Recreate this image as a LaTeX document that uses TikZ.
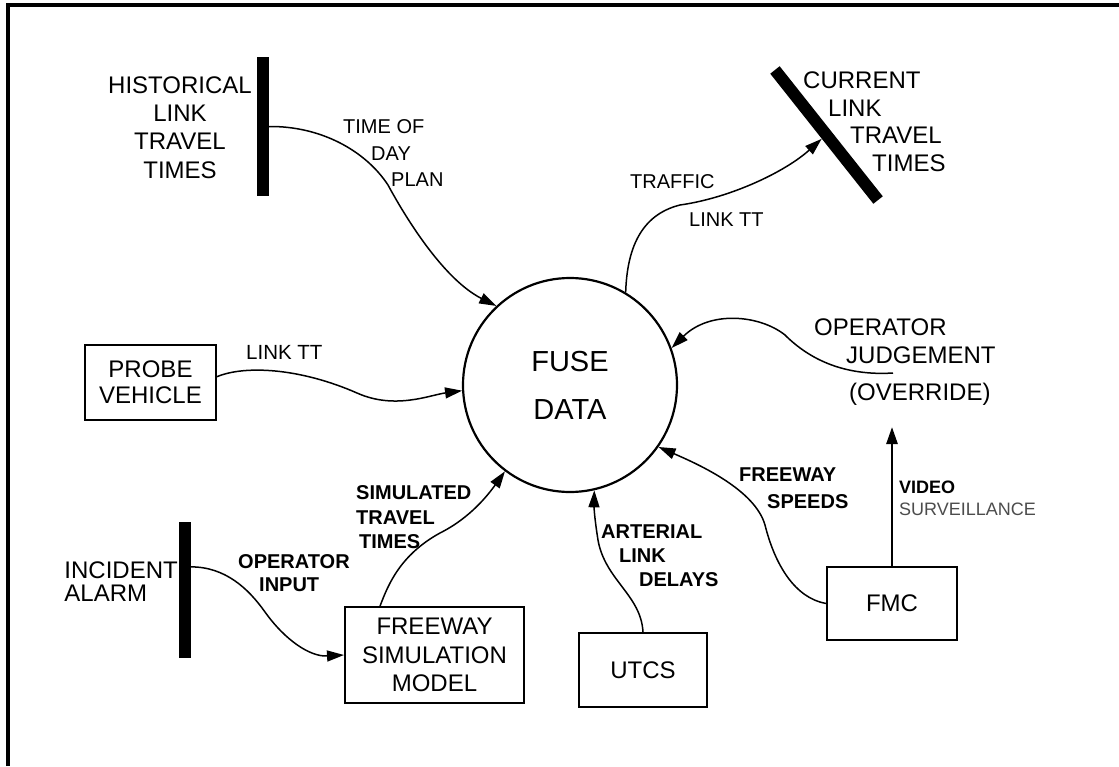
\documentclass[tikz,border=0pt]{standalone}
\usepackage{fontspec}
\setmainfont{Liberation Sans}
\usetikzlibrary{arrows.meta}

\begin{document}
\begin{tikzpicture}[
    x=1pt, y=-1pt,
    flow/.style={-{Triangle[length=17pt,width=11pt]}, line width=1.5pt},
    video/.style={-{Triangle[length=17pt,width=11pt]}, line width=2.6pt},
    store/.style={fill=black, inner sep=0pt, minimum width=12pt},
    procbox/.style={draw, line width=2pt, align=center, inner sep=0pt, font=\fontsize{24}{28.5}\selectfont},
    bigtxt/.style={align=center, inner sep=0pt, font=\fontsize{24}{28.3}\selectfont},
    lbl/.style={align=left, inner sep=0pt, anchor=north west, font=\fontsize{20.5}{24}\selectfont},
    lblb/.style={lbl, font=\bfseries\fontsize{20}{24}\selectfont}
]
\useasboundingbox (0,0) rectangle (1119,766);

% frame
\draw[line width=4pt] (8,766) -- (8,5) -- (1119,5);

% process
\node[circle, draw, line width=2.2pt, minimum size=214pt, inner sep=0pt, align=center,
      font=\fontsize{29}{48}\selectfont] (fuse) at (570,385) {FUSE\\DATA};

% data stores
\node[store, minimum height=139pt] (histbar) at (263,126.5) {};
\node[bigtxt, anchor=north east] (histtxt) at (252,76.4) {HISTORICAL\\LINK\\TRAVEL\\TIMES};

\node[store, minimum height=166pt, rotate=38.4] (curbar) at (826.5,135) {};
\node[bigtxt, align=left, anchor=north west, font=\fontsize{24}{27.7}\selectfont] (curtxt) at (803,71.4)
    {CURRENT\\\hspace*{25pt}LINK\\\hspace*{47pt}TRAVEL\\\hspace*{69pt}TIMES};

\node[store, minimum height=136pt] (incbar) at (185,590) {};
\node[bigtxt, align=left, anchor=north east, font=\fontsize{24}{23}\selectfont] (inctxt) at (178,561.4)
    {INCIDENT\\ALARM};

% sources
\node[procbox, minimum width=131pt, minimum height=75pt, font=\fontsize{24}{26}\selectfont] (probe) at (150.5,382.5)
    {PROBE\\VEHICLE};
\node[procbox, minimum width=179pt, minimum height=96pt] (fsm) at (434.5,655) {FREEWAY\\SIMULATION\\MODEL};
\node[procbox, minimum width=128pt, minimum height=74pt] (utcs) at (643,670) {UTCS};
\node[procbox, minimum width=130pt, minimum height=73pt] (fmc) at (892,603.5) {FMC};
\node[bigtxt, align=left, anchor=north west, font=\fontsize{24}{28}\selectfont] (opj) at (814,318.4)
    {OPERATOR\\\hspace*{32pt}JUDGEMENT\\[9pt]\hspace*{35pt}(OVERRIDE)};

% free ends
\coordinate (opjend) at (893,373);
\coordinate (vidend) at (892,427);

% flows into FUSE DATA
\draw[flow] (histbar.east) .. controls (320,126) and (365,150) .. (388,185)
    .. controls (408,222) and (445,280) .. (fuse.133);
\draw[flow] (probe.5) .. controls (245,365) and (300,368) .. (357,393)
    .. controls (395,410) and (430,395) .. (fuse.183);
\draw[flow] (opjend) .. controls (845,376) and (810,360) .. (785,335)
    .. controls (760,315) and (710,310) .. (fuse.20);
\draw[flow] (fsm.138) .. controls (388,585) and (400,555) .. (440,533)
    .. controls (470,518) and (488,495) .. (fuse.233);
\draw[flow] (utcs.north) .. controls (641,595) and (605,580) .. (598,540)
    .. controls (594,515) and (594,505) .. (fuse.-77);
\draw[flow] (fmc.west) .. controls (795,598) and (775,565) .. (765,525)
    .. controls (755,490) and (700,465) .. (fuse.-35);

% flows out
\draw[flow] (fuse.59) .. controls (627,250) and (640,215) .. (680,205)
    .. controls (730,198) and (785,172) .. (curbar.west);
\draw[flow] (incbar.75) .. controls (225,567) and (248,588) .. (265,612)
    .. controls (285,640) and (310,657) .. (fsm.west);
\draw[video] (fmc.north) -- (vidend);

% flow labels
\node[lbl, font=\fontsize{20}{26.5}\selectfont] (todlbl) at (343,119.7)
    {TIME OF\\\hspace*{28pt}DAY\\\hspace*{48pt}PLAN};
\node[lbl, font=\fontsize{20}{38}\selectfont] (trflbl) at (630,174.7)
    {TRAFFIC\\\hspace*{59pt}LINK TT};
\node[lbl] (probelbl) at (246,344.7) {LINK TT};
\node[lblb, font=\bfseries\fontsize{20}{27}\selectfont] (spdlbl) at (739,467.7)
    {FREEWAY\\\hspace*{28pt}SPEEDS};
\node[lblb] (artlbl) at (601,524.7) {ARTERIAL\\\hspace*{18pt}LINK\\\hspace*{38pt}DELAYS};
\node[lblb, font=\bfseries\fontsize{20}{24.5}\selectfont] (simlbl) at (356,485.7)
    {SIMULATED\\TRAVEL\\\hspace*{3pt}TIMES};
\node[lblb, font=\bfseries\fontsize{20}{23}\selectfont] (opinlbl) at (238,554.7) {OPERATOR\\\hspace*{21pt}INPUT};
\node[lbl, font=\fontsize{18}{22}\selectfont] (vidlbl) at (899,480.5)
    {{\bfseries VIDEO}\\{\color{black!70}SURVEILLANCE}};

\end{tikzpicture}
\end{document}
